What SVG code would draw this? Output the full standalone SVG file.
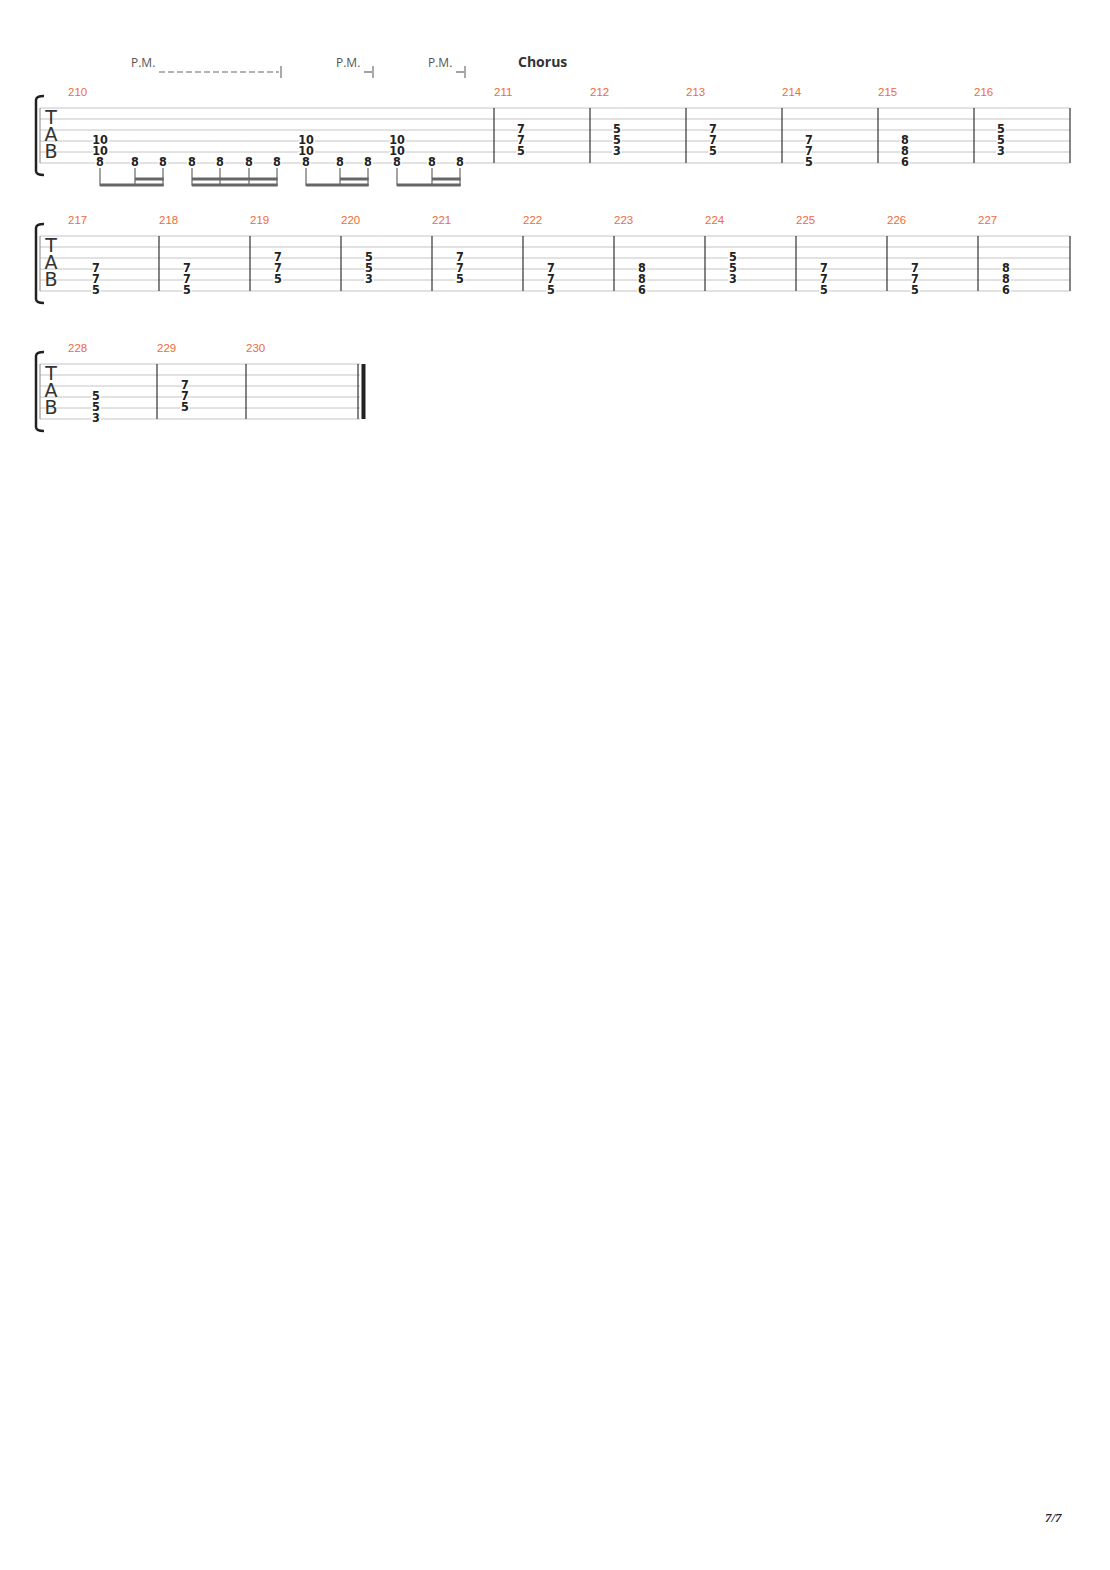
<svg xmlns="http://www.w3.org/2000/svg" width="1110" height="1570" viewBox="0 0 1110 1570">
<style>
.st{stroke:#c4c4c4;stroke-width:1}
.bar{stroke:#333;stroke-width:1.2}
.mn{font-family:"Liberation Sans",Arial,sans-serif;font-size:11.5px;fill:#f06a3c}
.f{font-family:"DejaVu Sans Condensed","DejaVu Sans",sans-serif;font-size:12.5px;font-weight:bold;fill:#222;text-anchor:middle;dominant-baseline:central;stroke:#fff;stroke-width:3;paint-order:stroke}
.tab{font-family:"DejaVu Sans",sans-serif;font-size:19px;fill:#333;text-anchor:middle;dominant-baseline:central}
.pm{font-family:"Open Sans","DejaVu Sans",sans-serif;font-size:12px;fill:#555}
.br{fill:none;stroke:#222;stroke-width:2.5}
.stem{stroke:#666;stroke-width:1.2}
.beam{stroke:#666;stroke-width:3}
</style>
<defs>
<g id="staff">
<line class="st" x1="40" y1="0" x2="1070" y2="0"/><line class="st" x1="40" y1="11" x2="1070" y2="11"/><line class="st" x1="40" y1="22" x2="1070" y2="22"/><line class="st" x1="40" y1="33" x2="1070" y2="33"/><line class="st" x1="40" y1="44" x2="1070" y2="44"/><line class="st" x1="40" y1="55" x2="1070" y2="55"/>
<line class="bar" x1="40" y1="0" x2="40" y2="55" style="stroke:#999"/>
<text class="tab" x="51" y="9">T</text><text class="tab" x="51" y="26">A</text><text class="tab" x="51" y="43">B</text>
<path class="br" d="M44,-12 Q36,-12 36,-8 L36,63 Q36,67 44,67"/>
</g>
<g id="staffs">
<line class="st" x1="40" y1="0" x2="360" y2="0"/><line class="st" x1="40" y1="11" x2="360" y2="11"/><line class="st" x1="40" y1="22" x2="360" y2="22"/><line class="st" x1="40" y1="33" x2="360" y2="33"/><line class="st" x1="40" y1="44" x2="360" y2="44"/><line class="st" x1="40" y1="55" x2="360" y2="55"/>
<line class="bar" x1="40" y1="0" x2="40" y2="55" style="stroke:#999"/>
<text class="tab" x="51" y="9">T</text><text class="tab" x="51" y="26">A</text><text class="tab" x="51" y="43">B</text>
<path class="br" d="M44,-12 Q36,-12 36,-8 L36,63 Q36,67 44,67"/>
</g>
</defs>

<g id="system1">
<use href="#staff" x="0" y="108"/>
<g class="bars"><line class="bar" x1="494" y1="108" x2="494" y2="163"/><line class="bar" x1="590" y1="108" x2="590" y2="163"/><line class="bar" x1="686" y1="108" x2="686" y2="163"/><line class="bar" x1="782" y1="108" x2="782" y2="163"/><line class="bar" x1="878" y1="108" x2="878" y2="163"/><line class="bar" x1="974" y1="108" x2="974" y2="163"/><line class="bar" x1="1070" y1="108" x2="1070" y2="163"/></g>
<text class="mn" x="68" y="96">210</text><text class="mn" x="494" y="96">211</text><text class="mn" x="590" y="96">212</text><text class="mn" x="686" y="96">213</text><text class="mn" x="782" y="96">214</text><text class="mn" x="878" y="96">215</text><text class="mn" x="974" y="96">216</text>
<text class="pm" x="131" y="67">P.M.</text>
<line x1="159" y1="72" x2="279" y2="72" stroke="#666" stroke-width="1.2" stroke-dasharray="6,3"/><line x1="281" y1="66" x2="281" y2="78" stroke="#555"/>
<text class="pm" x="336" y="67">P.M.</text>
<line x1="364" y1="72" x2="372" y2="72" stroke="#666" stroke-width="1.2"/><line x1="373" y1="66" x2="373" y2="78" stroke="#555"/>
<text class="pm" x="428" y="67">P.M.</text>
<line x1="456" y1="72" x2="464" y2="72" stroke="#666" stroke-width="1.2"/><line x1="465" y1="66" x2="465" y2="78" stroke="#555"/>
<text x="518" y="67" style="font-family:'Open Sans','DejaVu Sans',sans-serif;font-size:14px;font-weight:bold;fill:#333">Chorus</text>
<g class="notes">
<text class="f" x="100" y="139">10</text><text class="f" x="100" y="150">10</text><text class="f" x="100" y="161">8</text>
<text class="f" x="135" y="161">8</text><text class="f" x="163" y="161">8</text><text class="f" x="192" y="161">8</text><text class="f" x="220" y="161">8</text><text class="f" x="249" y="161">8</text><text class="f" x="277" y="161">8</text>
<text class="f" x="306" y="139">10</text><text class="f" x="306" y="150">10</text><text class="f" x="306" y="161">8</text>
<text class="f" x="340" y="161">8</text><text class="f" x="368" y="161">8</text>
<text class="f" x="397" y="139">10</text><text class="f" x="397" y="150">10</text><text class="f" x="397" y="161">8</text>
<text class="f" x="432" y="161">8</text><text class="f" x="460" y="161">8</text>
<text class="f" x="521" y="128">7</text><text class="f" x="521" y="139">7</text><text class="f" x="521" y="150">5</text>
<text class="f" x="617" y="128">5</text><text class="f" x="617" y="139">5</text><text class="f" x="617" y="150">3</text>
<text class="f" x="713" y="128">7</text><text class="f" x="713" y="139">7</text><text class="f" x="713" y="150">5</text>
<text class="f" x="809" y="139">7</text><text class="f" x="809" y="150">7</text><text class="f" x="809" y="161">5</text>
<text class="f" x="905" y="139">8</text><text class="f" x="905" y="150">8</text><text class="f" x="905" y="161">6</text>
<text class="f" x="1001" y="128">5</text><text class="f" x="1001" y="139">5</text><text class="f" x="1001" y="150">3</text>
</g>
<g class="beams">
<line class="stem" x1="100" y1="168" x2="100" y2="186"/><line class="stem" x1="135" y1="168" x2="135" y2="186"/><line class="stem" x1="163" y1="168" x2="163" y2="186"/>
<line class="beam" x1="100" y1="185" x2="163.6" y2="185"/><line class="beam" x1="135" y1="179" x2="163.6" y2="179"/>
<line class="stem" x1="192" y1="168" x2="192" y2="186"/><line class="stem" x1="220" y1="168" x2="220" y2="186"/><line class="stem" x1="249" y1="168" x2="249" y2="186"/><line class="stem" x1="277" y1="168" x2="277" y2="186"/>
<line class="beam" x1="192" y1="185" x2="277.6" y2="185"/><line class="beam" x1="192" y1="179" x2="277.6" y2="179"/>
<line class="stem" x1="306" y1="168" x2="306" y2="186"/><line class="stem" x1="340" y1="168" x2="340" y2="186"/><line class="stem" x1="368" y1="168" x2="368" y2="186"/>
<line class="beam" x1="306" y1="185" x2="368.6" y2="185"/><line class="beam" x1="340" y1="179" x2="368.6" y2="179"/>
<line class="stem" x1="397" y1="168" x2="397" y2="186"/><line class="stem" x1="432" y1="168" x2="432" y2="186"/><line class="stem" x1="460" y1="168" x2="460" y2="186"/>
<line class="beam" x1="397" y1="185" x2="460.6" y2="185"/><line class="beam" x1="432" y1="179" x2="460.6" y2="179"/>
</g>
</g>

<g id="system2">
<use href="#staff" x="0" y="236"/>
<g class="bars"><line class="bar" x1="159" y1="236" x2="159" y2="291"/><line class="bar" x1="250" y1="236" x2="250" y2="291"/><line class="bar" x1="341" y1="236" x2="341" y2="291"/><line class="bar" x1="432" y1="236" x2="432" y2="291"/><line class="bar" x1="523" y1="236" x2="523" y2="291"/><line class="bar" x1="614" y1="236" x2="614" y2="291"/><line class="bar" x1="705" y1="236" x2="705" y2="291"/><line class="bar" x1="796" y1="236" x2="796" y2="291"/><line class="bar" x1="887" y1="236" x2="887" y2="291"/><line class="bar" x1="978" y1="236" x2="978" y2="291"/><line class="bar" x1="1070" y1="236" x2="1070" y2="291"/></g>
<text class="mn" x="68" y="224">217</text><text class="mn" x="159" y="224">218</text><text class="mn" x="250" y="224">219</text><text class="mn" x="341" y="224">220</text><text class="mn" x="432" y="224">221</text><text class="mn" x="523" y="224">222</text><text class="mn" x="614" y="224">223</text><text class="mn" x="705" y="224">224</text><text class="mn" x="796" y="224">225</text><text class="mn" x="887" y="224">226</text><text class="mn" x="978" y="224">227</text>
<g class="notes">
<text class="f" x="96" y="267">7</text><text class="f" x="96" y="278">7</text><text class="f" x="96" y="289">5</text>
<text class="f" x="187" y="267">7</text><text class="f" x="187" y="278">7</text><text class="f" x="187" y="289">5</text>
<text class="f" x="278" y="256">7</text><text class="f" x="278" y="267">7</text><text class="f" x="278" y="278">5</text>
<text class="f" x="369" y="256">5</text><text class="f" x="369" y="267">5</text><text class="f" x="369" y="278">3</text>
<text class="f" x="460" y="256">7</text><text class="f" x="460" y="267">7</text><text class="f" x="460" y="278">5</text>
<text class="f" x="551" y="267">7</text><text class="f" x="551" y="278">7</text><text class="f" x="551" y="289">5</text>
<text class="f" x="642" y="267">8</text><text class="f" x="642" y="278">8</text><text class="f" x="642" y="289">6</text>
<text class="f" x="733" y="256">5</text><text class="f" x="733" y="267">5</text><text class="f" x="733" y="278">3</text>
<text class="f" x="824" y="267">7</text><text class="f" x="824" y="278">7</text><text class="f" x="824" y="289">5</text>
<text class="f" x="915" y="267">7</text><text class="f" x="915" y="278">7</text><text class="f" x="915" y="289">5</text>
<text class="f" x="1006" y="267">8</text><text class="f" x="1006" y="278">8</text><text class="f" x="1006" y="289">6</text>
</g>
</g>

<g id="system3">
<use href="#staffs" x="0" y="364"/>
<line class="bar" x1="157" y1="364" x2="157" y2="419"/><line class="bar" x1="246" y1="364" x2="246" y2="419"/>
<line class="bar" x1="358" y1="364" x2="358" y2="419"/><rect x="361.5" y="364" width="4" height="55" fill="#222"/>
<text class="mn" x="68" y="352">228</text><text class="mn" x="157" y="352">229</text><text class="mn" x="246" y="352">230</text>
<g class="notes">
<text class="f" x="96" y="395">5</text><text class="f" x="96" y="406">5</text><text class="f" x="96" y="417">3</text>
<text class="f" x="185" y="384">7</text><text class="f" x="185" y="395">7</text><text class="f" x="185" y="406">5</text>
</g>
</g>

<text x="1045" y="1522" style="font-family:'Liberation Serif',serif;font-size:13px;font-style:italic;font-weight:bold;fill:#223">7/7</text>
</svg>
